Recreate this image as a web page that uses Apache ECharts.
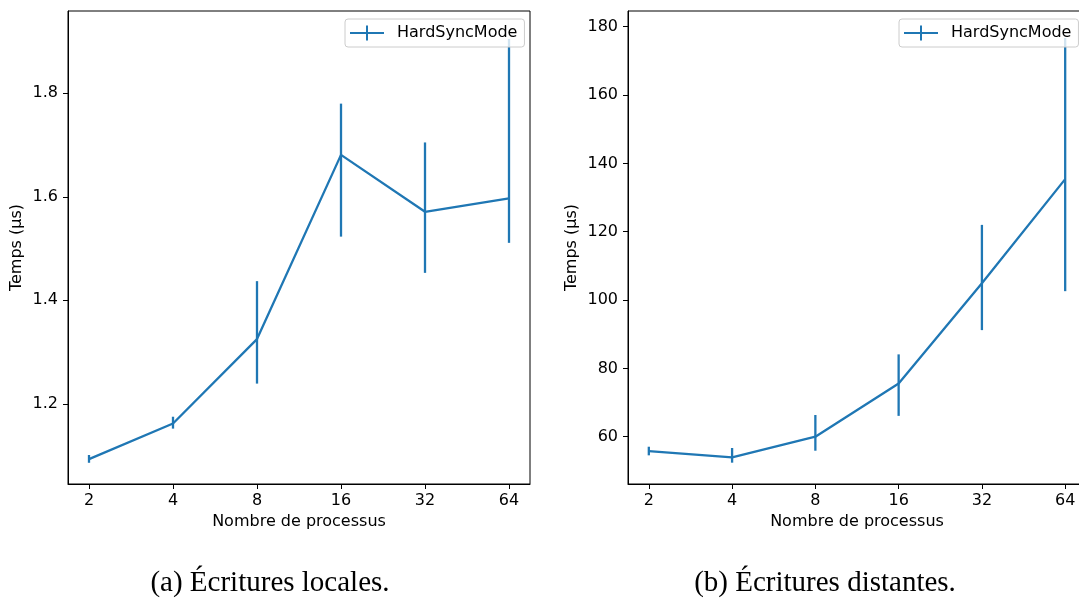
<!DOCTYPE html>
<html>
<head>
<meta charset="utf-8">
<script src="https://cdn.jsdelivr.net/npm/echarts@6/dist/echarts.min.js"></script>
<style>
html,body{margin:0;padding:0;background:#fff;}
#chart{width:1079px;height:599px;}
</style>
</head>
<body>
<div id="chart"></div>
<script>
// ---- data ----
const procs = [2, 4, 8, 16, 32, 64];
const xTicks = [2, 4, 8, 16, 32, 64];

const localMean = [1.093, 1.162, 1.325, 1.681, 1.571, 1.597];
const localLow  = [1.086, 1.152, 1.239, 1.523, 1.453, 1.511];
const localHigh = [1.101, 1.175, 1.437, 1.780, 1.705, 1.905];
const localTicks = [1.2, 1.4, 1.6, 1.8];

const remoteMean = [55.8, 53.97, 60.0, 75.6, 104.9, 135.4];
const remoteLow  = [54.55, 52.4, 55.9, 66.1, 91.2, 102.6];
const remoteHigh = [57.07, 56.7, 66.35, 84.1, 122.0, 176.7];
const remoteTicks = [60, 80, 100, 120, 140, 160, 180];

const seriesName = 'HardSyncMode';
const xName = 'Nombre de processus';
const yName = 'Temps (µs)';
const captions = ['(a) Écritures locales.', '(b) Écritures distantes.'];

// ---- styling ----
const BLUE = '#1f77b4';
const FONT = 'DejaVu Sans';
const txt = {fontFamily: FONT, fontSize: 16, color: '#000'};

function xAxis(gi) {
  return {
    type: 'log', logBase: 2, gridIndex: gi,
    min: Math.pow(2, 0.75), max: Math.pow(2, 6.25),
    name: xName, nameLocation: 'middle', nameGap: 30, nameTextStyle: txt,
    axisLine: {show: true, lineStyle: {color: '#000', width: 1}},
    axisTick: {show: true, length: 5, lineStyle: {color: '#000', width: 1}, customValues: xTicks},
    axisLabel: Object.assign({margin: 9, customValues: xTicks}, txt),
    splitLine: {show: false}, minorTick: {show: false}
  };
}
function yAxis(gi, min, max, ticks, gap) {
  return {
    type: 'value', gridIndex: gi, min: min, max: max,
    name: yName, nameLocation: 'middle', nameGap: gap, nameRotate: 90, nameTextStyle: txt,
    axisLine: {show: true, lineStyle: {color: '#000', width: 1}},
    axisTick: {show: true, length: 5, lineStyle: {color: '#000', width: 1}, customValues: ticks},
    axisLabel: Object.assign({margin: 10, customValues: ticks}, txt),
    splitLine: {show: false}
  };
}
function lineSeries(gi, mean) {
  return {
    type: 'line', name: seriesName, xAxisIndex: gi, yAxisIndex: gi,
    data: procs.map((p, i) => [p, mean[i]]),
    symbol: 'none', lineStyle: {color: BLUE, width: 2.3}, itemStyle: {color: BLUE},
    z: 3, silent: true, animation: false
  };
}
function errSeries(gi, low, high) {
  return {
    type: 'custom', name: seriesName, xAxisIndex: gi, yAxisIndex: gi,
    data: procs.map((p, i) => [p, low[i], high[i]]),
    renderItem: function (params, api) {
      const a = api.coord([api.value(0), api.value(1)]);
      const b = api.coord([api.value(0), api.value(2)]);
      return {type: 'line', shape: {x1: a[0], y1: a[1], x2: b[0], y2: b[1]},
              style: {stroke: BLUE, lineWidth: 2.3}};
    },
    itemStyle: {color: BLUE}, z: 3, silent: true, animation: false
  };
}
const legendIcon = 'path://M0,6.5h34v2h-34z M16,0h2v15h-2z';
function legend(left) {
  return {
    data: [{name: seriesName, icon: legendIcon}],
    left: left, top: 19, orient: 'vertical',
    itemWidth: 34, itemHeight: 15,
    padding: [6, 7, 6, 5],
    backgroundColor: 'rgba(255,255,255,0.8)',
    borderColor: '#cccccc', borderWidth: 1, borderRadius: 3,
    textStyle: Object.assign({padding: [0, 0, 0, 8]}, txt),
    selectedMode: false, z: 10
  };
}

const chart = echarts.init(document.getElementById('chart'), null, {renderer: 'canvas'});
chart.setOption({
  animation: false,
  backgroundColor: '#fff',
  grid: [
    {left: 68, top: 11, width: 462, height: 473, show: true, borderColor: '#000', borderWidth: 1,
     backgroundColor: 'transparent', containLabel: false, outerBoundsMode: 'none'},
    {left: 628, top: 11, width: 458, height: 473, show: true, borderColor: '#000', borderWidth: 1,
     backgroundColor: 'transparent', containLabel: false, outerBoundsMode: 'none'}
  ],
  xAxis: [xAxis(0), xAxis(1)],
  yAxis: [yAxis(0, 1.045, 1.959, localTicks, 43), yAxis(1, 46.16, 184.6, remoteTicks, 48)],
  legend: [legend(345), legend(899)],
  series: [
    lineSeries(0, localMean), errSeries(0, localLow, localHigh),
    lineSeries(1, remoteMean), errSeries(1, remoteLow, remoteHigh)
  ],
  graphic: [
    {type: 'text', x: 270, y: 583, style: {text: captions[0], font: '29px "Liberation Serif"', fill: '#000', align: 'center', verticalAlign: 'middle'}},
    {type: 'text', x: 825, y: 583, style: {text: captions[1], font: '29px "Liberation Serif"', fill: '#000', align: 'center', verticalAlign: 'middle'}}
  ]
});
</script>
</body>
</html>
